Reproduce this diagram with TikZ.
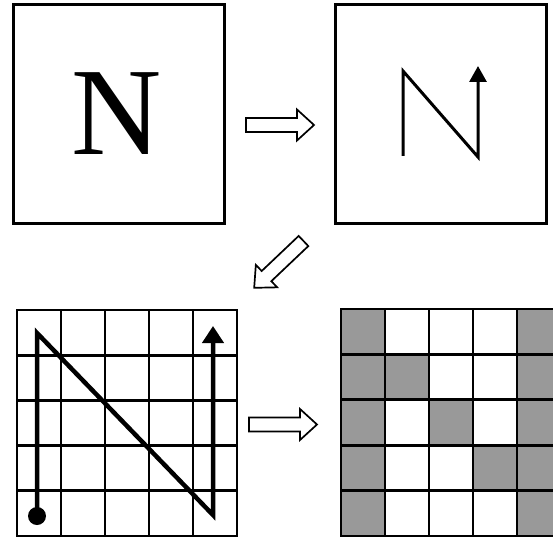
\documentclass[tikz,border=0pt]{standalone}
\usepackage{fontspec}
\setmainfont{Liberation Serif}
\usetikzlibrary{arrows.meta}
\definecolor{cellgray}{RGB}{153,153,153}
\begin{document}
\begin{tikzpicture}[x=1pt,y=-1pt,
  frame/.style={draw=black, line width=2.3pt, inner sep=0pt, minimum width=211pt, minimum height=219pt},
  gridline/.style={line width=2.7pt, line cap=rect},
  blockarrow/.style={draw, line width=1.7pt, fill=white, line join=miter},
  thinpath/.style={line width=3pt, line join=miter},
  thickpath/.style={line width=4.5pt, line join=miter},
  graycell/.style={fill=cellgray}]
\useasboundingbox (0,0) rectangle (553,537);

% top boxes
\node[frame] (box1) at (119,114) {};
\node[frame] (box2) at (441,114) {};
\node[inner sep=0pt] (letter) at (117,113.5) {\fontsize{125}{125}\selectfont N};

% N path in box 2
\coordinate (p1) at (403,156);
\coordinate (p2) at (403,71);
\coordinate (p3) at (478,157);
\coordinate (p4) at (478,66);
\draw[thinpath, -{Triangle[width=17pt,length=16pt]}] (p1) -- (p2) -- (p3) -- (p4);

% block arrows
\begin{scope}[shift={(246,125)}]
  \draw[blockarrow] (0,-7) -- (51,-7) -- (51,-15.5) -- (68,0) -- (51,15.5) -- (51,7) -- (0,7) -- cycle;
\end{scope}
\begin{scope}[shift={(249,424.5)}]
  \draw[blockarrow] (0,-7) -- (51,-7) -- (51,-15.5) -- (68,0) -- (51,15.5) -- (51,7) -- (0,7) -- cycle;
\end{scope}
\begin{scope}[shift={(303.5,241)}, rotate=-136.5]
  \draw[blockarrow] (0,-7) -- (51,-7) -- (51,-15.5) -- (68,0) -- (51,15.5) -- (51,7) -- (0,7) -- cycle;
\end{scope}

% grid 1
\foreach \i in {0,...,5} {
  \draw[gridline] ({17+44*\i},310) -- ({17+44*\i},536);
  \draw[gridline] (17,{310+45.2*\i}) -- (237,{310+45.2*\i});
}
\coordinate (q1) at (37,516);
\coordinate (q2) at (37,333);
\coordinate (q3) at (213,515);
\coordinate (q4) at (213,326);
\fill (q1) circle (9);
\draw[thickpath, -{Triangle[width=21pt,length=17pt]}] (q1) -- (q2) -- (q3) -- (q4);

% grid 2
\begin{scope}
\clip (0,0) rectangle (553,537);
\foreach \c/\r in {0/0,4/0,0/1,1/1,4/1,0/2,2/2,4/2,0/3,3/3,4/3,0/4,4/4} {
  \fill[graycell] ({341+44*\c},{309+45.4*\r}) rectangle ++(44,45.4);
}
\foreach \i in {0,...,5} {
  \draw[gridline] ({341+44*\i},309) -- ({341+44*\i},536);
  \draw[gridline] (341,{309+45.4*\i}) -- (561,{309+45.4*\i});
}
\end{scope}
\end{tikzpicture}
\end{document}
